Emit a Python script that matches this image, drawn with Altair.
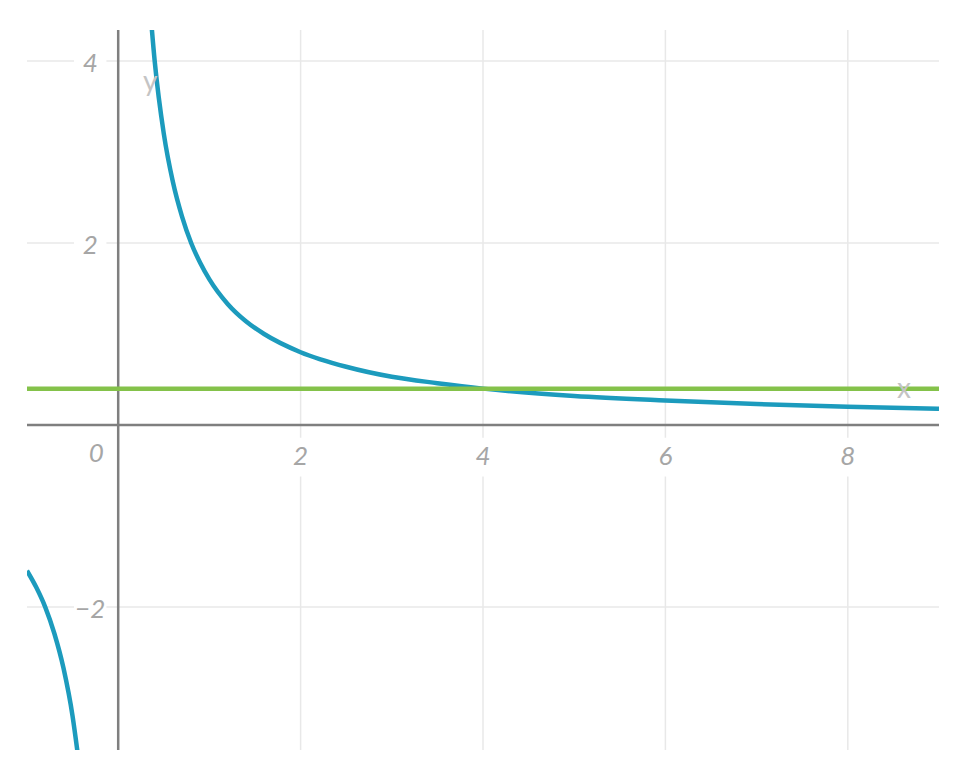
import altair as alt
import pandas as pd

# ---- data ----
pos_x = [0.34, 0.4, 0.5, 0.6, 0.7, 0.8, 0.9, 1.0, 1.2, 1.4, 1.6, 2.0, 2.5, 3.0, 3.5, 4.0, 5.0, 6.0, 7.0, 8.0, 9.0]
pos_y = [4.7, 4.0, 3.2, 2.67, 2.29, 2.0, 1.78, 1.6, 1.33, 1.14, 1.0, 0.8, 0.64, 0.53, 0.46, 0.4, 0.32, 0.27, 0.23, 0.2, 0.18]
neg_x = [-1.0, -0.9, -0.8, -0.7, -0.6, -0.5, -0.44]
neg_y = [-1.6, -1.78, -2.0, -2.29, -2.67, -3.2, -3.64]
hline_y = 0.4

x_ticks = [2, 4, 6, 8]
x_tick_labels = ["2", "4", "6", "8"]
origin_label = "0"
y_ticks = [-2, 2, 4]
y_tick_labels = ["−2", "2", "4"]
x_grid = [2, 4, 6, 8]
y_grid = [-2, 2, 4]

X_DOM = [-1, 9]
Y_DOM = [-3.57, 4.34]

xs = alt.Scale(domain=X_DOM, nice=False, zero=False)
ys = alt.Scale(domain=Y_DOM, nice=False, zero=False)

curve_df = pd.DataFrame(
    {"x": pos_x + neg_x, "y": pos_y + neg_y,
     "branch": ["pos"] * len(pos_x) + ["neg"] * len(neg_x)}
)
vgrid_df = pd.DataFrame({"x": x_grid})
hgrid_df = pd.DataFrame({"y": y_grid})
xlab_df = pd.DataFrame({"x": x_ticks, "y": [0] * len(x_ticks), "t": x_tick_labels})
olab_df = pd.DataFrame({"x": [0], "y": [0], "t": [origin_label]})
ylab_df = pd.DataFrame({"x": [0] * len(y_ticks), "y": y_ticks, "t": y_tick_labels})
hline_df = pd.DataFrame({"x": [X_DOM[0]], "x2": [X_DOM[1]], "y": [hline_y]})
axis_df = pd.DataFrame({"x": [X_DOM[0]], "x2": [X_DOM[1]], "y": [0],
                        "yy": [Y_DOM[0]], "yy2": [Y_DOM[1]], "xx": [0]})
title_df = pd.DataFrame({"x": [X_DOM[1], 0], "y": [0, Y_DOM[1]], "t": ["x", "y"]})

X = lambda f="x": alt.X(f"{f}:Q", scale=xs, axis=None)
Y = lambda f="y": alt.Y(f"{f}:Q", scale=ys, axis=None)

grid_color = "#e8e8e8"
vgrid = alt.Chart(vgrid_df).mark_rule(color=grid_color, strokeWidth=1.5).encode(
    x=X(), y=alt.value(0), y2=alt.value(720))
hgrid = alt.Chart(hgrid_df).mark_rule(color=grid_color, strokeWidth=1.5).encode(
    y=Y(), x=alt.value(0), x2=alt.value(912))

label_font = "Lato"
label_color = "#a6a6a6"

xlab_bg = alt.Chart(xlab_df).mark_square(color="white", opacity=1, size=1500, yOffset=32, xOffset=0).encode(
    x=X(), y=Y())
ylab_bg = alt.Chart(ylab_df).mark_square(color="white", opacity=1, size=1050, xOffset=-28).encode(
    x=X(), y=Y())

xaxis = alt.Chart(axis_df).mark_rule(color="#7f7f7f", strokeWidth=2.5).encode(
    x=X(), x2="x2:Q", y=Y())
yaxis = alt.Chart(axis_df).mark_rule(color="#7f7f7f", strokeWidth=2.5).encode(
    x=X("xx"), y=Y("yy"), y2="yy2:Q")

curve = alt.Chart(curve_df).mark_line(color="#1c9bbd", strokeWidth=4.5, interpolate="monotone", clip=True).encode(
    x=X(), y=Y(), detail="branch:N", order=alt.Order("x:Q"))

hline = alt.Chart(hline_df).mark_rule(color="#84c24a", strokeWidth=4.5).encode(
    x=X(), x2="x2:Q", y=Y())

xlab = alt.Chart(xlab_df).mark_text(font=label_font, fontStyle="italic", fontSize=26, color=label_color,
                                    dy=32, baseline="middle", align="center").encode(
    x=X(), y=Y(), text="t:N")
olab = alt.Chart(olab_df).mark_text(font=label_font, fontStyle="italic", fontSize=26, color=label_color,
                                    dx=-22, dy=29, baseline="middle", align="center").encode(
    x=X(), y=Y(), text="t:N")
ylab = alt.Chart(ylab_df).mark_text(font=label_font, fontStyle="italic", fontSize=26, color=label_color,
                                    dx=-28, dy=3, baseline="middle", align="center").encode(
    x=X(), y=Y(), text="t:N")

titles_x = alt.Chart(title_df.iloc[[0]]).mark_text(font=label_font, fontSize=28, color="#c4c4c4",
                                                    dx=-35, dy=-35, baseline="middle", align="center").encode(
    x=X(), y=Y(), text="t:N")
titles_y = alt.Chart(title_df.iloc[[1]]).mark_text(font=label_font, fontSize=28, color="#c4c4c4",
                                                    dx=32, dy=53, baseline="middle", align="center").encode(
    x=X(), y=Y(), text="t:N")

chart = alt.layer(
    vgrid, hgrid, xlab_bg, ylab_bg, xaxis, yaxis, curve, hline, xlab, olab, ylab, titles_x, titles_y
).properties(
    width=912, height=720,
    autosize=alt.AutoSizeParams(type="none"),
    padding={"left": 19, "top": 22, "right": 5, "bottom": 5},
).configure_view(stroke=None)

chart.save("out.html", embed_options={"renderer": "svg", "actions": False})
